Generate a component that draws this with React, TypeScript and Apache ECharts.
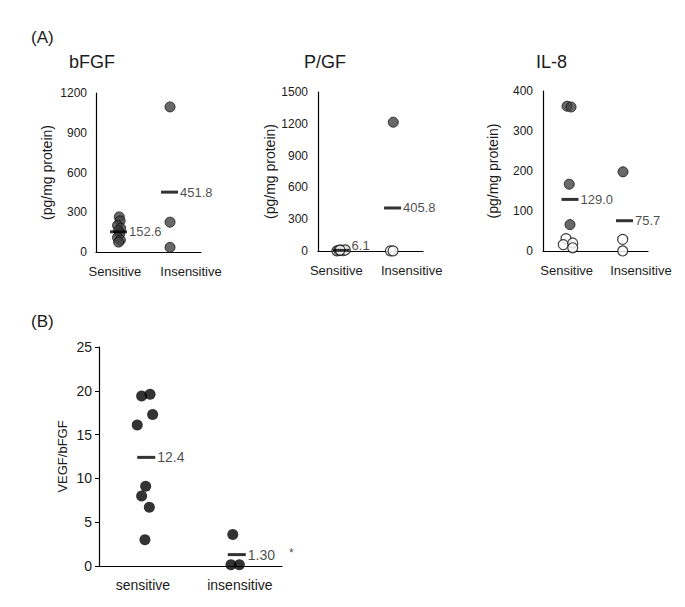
import React, { useEffect, useRef } from "react";
import * as echarts from "echarts";

const FONT = "'Liberation Sans', Arial, Helvetica, sans-serif";
const TXT = "#1a1a1a";

// ---- data ----
const categoriesA = ["Sensitive", "Insensitive"];
const categoriesB = ["sensitive", "insensitive"];

const bfgfSensitive = [265, 235, 200, 180, 160, 140, 110, 90, 75];
const bfgfInsensitive = [1095, 225, 35];
const bfgfMeans = [152.6, 451.8];

const plgfSensitiveOpen = [2, 5, 8, 3, 10, 8.6];
const plgfInsensitiveFilled = [1215];
const plgfInsensitiveOpen = [1.5, 0.9];
const plgfMeans = [6.1, 405.8];

const il8SensitiveFilled = [362, 360, 167, 66];
const il8SensitiveOpen = [31, 16, 20, 8];
const il8InsensitiveFilled = [198];
const il8InsensitiveOpen = [29, 0.1];
const il8Means = [129.0, 75.7];

const ratioSensitive = [19.4, 19.6, 17.3, 16.1, 9.1, 8.0, 6.7, 3.0];
const ratioInsensitive = [3.6, 0.15, 0.15];
const ratioMeans = [12.4, 1.3];
const ratioMeanDecimals = [1, 2];

// ---- layout (horizontal placement within each panel, 0..1 of axis width) ----
const jitterBfgfS = [0.222, 0.23, 0.205, 0.235, 0.215, 0.228, 0.205, 0.232, 0.215];
const jitterBfgfI = [0.705, 0.705, 0.705];
const jitterPlgfS = [0.18, 0.2, 0.22, 0.24, 0.26, 0.21];
const jitterPlgfIF = [0.717];
const jitterPlgfIO = [0.69, 0.715];
const jitterIl8SF = [0.229, 0.267, 0.25, 0.257];
const jitterIl8SO = [0.219, 0.193, 0.283, 0.283];
const jitterIl8IF = [0.762];
const jitterIl8IO = [0.759, 0.759];
const jitterRatioS = [0.233, 0.279, 0.293, 0.209, 0.255, 0.233, 0.275, 0.251];
const jitterRatioI = [0.731, 0.721, 0.767];

const zip = (xs: number[], ys: number[]) => ys.map((v, i) => [xs[i], v]);

const filledA = { color: "#444", borderColor: "#111", borderWidth: 1 };
const openA = { color: "#fff", borderColor: "#111", borderWidth: 1.2 };

function xAxisFor(grid: number, cats: string[], pos: number[], fontSize: number, margin: number) {
  return {
    gridIndex: grid,
    type: "value",
    min: 0,
    max: 1,
    axisLine: { show: true, onZero: false, lineStyle: { color: "#000", width: 1.2 } },
    axisTick: { show: false },
    splitLine: { show: false },
    axisLabel: {
      customValues: pos,
      margin,
      fontSize,
      color: TXT,
      fontFamily: FONT,
      formatter: (v: number) => {
        const i = pos.findIndex((p) => Math.abs(p - v) < 1e-6);
        return i >= 0 ? cats[i] : "";
      },
    },
  };
}

function yAxisFor(grid: number, max: number, interval: number, name: string, nameGap: number, tick: boolean, fs: number, nfs: number, margin: number) {
  return {
    gridIndex: grid,
    type: "value",
    min: 0,
    max,
    interval,
    axisLine: { show: true, lineStyle: { color: "#000", width: 1.2 } },
    axisTick: { show: tick, length: 4, lineStyle: { color: "#000" } },
    splitLine: { show: false },
    axisLabel: { fontSize: fs, color: TXT, fontFamily: FONT, margin, formatter: (v: number) => String(v) },
    name,
    nameLocation: "middle",
    nameRotate: 90,
    nameGap,
    nameTextStyle: { fontSize: nfs, color: TXT, fontFamily: FONT },
  };
}

function dots(grid: number, data: number[][], style: any, size: number) {
  return {
    type: "scatter",
    xAxisIndex: grid,
    yAxisIndex: grid,
    data,
    symbol: "circle",
    symbolSize: size,
    itemStyle: style,
    z: 2,
  };
}

function means(grid: number, xs: number[], vals: number[], fmt: (i: number) => string, width: number, fs: number, extra?: any) {
  return {
    type: "scatter",
    xAxisIndex: grid,
    yAxisIndex: grid,
    data: vals.map((v, i) => ({
      value: [xs[i], v],
      label: extra && extra[i] ? extra[i] : undefined,
    })),
    symbol: "rect",
    symbolSize: [width, 3],
    itemStyle: { color: "#000" },
    z: 5,
    label: {
      show: true,
      position: "right",
      distance: 2,
      fontSize: fs,
      color: TXT,
      fontFamily: FONT,
      formatter: (p: any) => fmt(p.dataIndex),
    },
  };
}

export default function App() {
  const ref = useRef<HTMLDivElement>(null);
  useEffect(() => {
    if (!ref.current) return;
    const chart = echarts.init(ref.current, undefined, { renderer: "svg" });
    const titleStyle = (fs: number) => ({ fontSize: fs, fontWeight: "normal", color: TXT, fontFamily: FONT });
    const option: any = {
      animation: false,
      backgroundColor: "#fff",
      title: [
        { text: "(A)", left: 26, top: 24, textStyle: titleStyle(17) },
        { text: "bFGF", left: 64, top: 48, textStyle: titleStyle(18) },
        { text: "P/GF", left: 299, top: 48, textStyle: titleStyle(18) },
        { text: "IL-8", left: 531, top: 48, textStyle: titleStyle(18) },
        { text: "(B)", left: 26, top: 308, textStyle: titleStyle(17) },
      ],
      grid: [
        { left: 96, top: 93, width: 105, height: 159 },
        { left: 318, top: 92, width: 105, height: 159 },
        { left: 543, top: 91, width: 105, height: 160 },
        { left: 99, top: 347, width: 183, height: 219 },
      ],
      xAxis: [
        xAxisFor(0, categoriesA, [0.18, 0.905], 13, 13),
        xAxisFor(1, categoriesA, [0.174, 0.892], 13, 13),
        xAxisFor(2, categoriesA, [0.226, 0.933], 13, 13),
        xAxisFor(3, categoriesB, [0.24, 0.77], 14, 12),
      ],
      yAxis: [
        yAxisFor(0, 1200, 300, "(pg/mg protein)", 42, false, 12, 14, 9),
        yAxisFor(1, 1500, 300, "(pg/mg protein)", 38, false, 12, 14, 10),
        yAxisFor(2, 400, 100, "(pg/mg protein)", 43, false, 12, 14, 10),
        yAxisFor(3, 25, 5, "VEGF/bFGF", 30, true, 14, 13, 7),
      ],
      series: [
        dots(0, zip(jitterBfgfS, bfgfSensitive), filledA, 10),
        dots(0, zip(jitterBfgfI, bfgfInsensitive), filledA, 10),
        means(0, [0.214, 0.7], bfgfMeans, (i) => bfgfMeans[i].toFixed(1), 17, 13),

        dots(1, zip(jitterPlgfS, plgfSensitiveOpen), openA, 10),
        dots(1, zip(jitterPlgfIF, plgfInsensitiveFilled), filledA, 10),
        dots(1, zip(jitterPlgfIO, plgfInsensitiveOpen), openA, 10),
        means(1, [0.22, 0.71], plgfMeans, (i) => plgfMeans[i].toFixed(1), 17, 13, [{ offset: [0, -5] }, null]),

        dots(2, zip(jitterIl8SF, il8SensitiveFilled), filledA, 10),
        dots(2, zip(jitterIl8SO, il8SensitiveOpen), openA, 10),
        dots(2, zip(jitterIl8IF, il8InsensitiveFilled), filledA, 10),
        dots(2, zip(jitterIl8IO, il8InsensitiveOpen), openA, 10),
        means(2, [0.257, 0.776], il8Means, (i) => il8Means[i].toFixed(1), 17, 13),

        dots(3, zip(jitterRatioS, ratioSensitive), { color: "#000" }, 11),
        dots(3, zip(jitterRatioI, ratioInsensitive), { color: "#000" }, 11),
        means(3, [0.258, 0.753], ratioMeans, (i) => ratioMeans[i].toFixed(ratioMeanDecimals[i]), 18, 14, [
          null,
          {
            formatter: "{a|" + ratioMeans[1].toFixed(ratioMeanDecimals[1]) + "}{s|*}",
            rich: {
              a: { fontSize: 14, color: TXT, fontFamily: FONT },
              s: { fontSize: 12, color: TXT, fontFamily: FONT, padding: [0, 0, 4, 14] },
            },
          },
        ]),
      ],
    };
    chart.setOption(option);
    return () => chart.dispose();
  }, []);
  return (
    <div
      ref={ref}
      style={{ position: "fixed", left: 0, top: 0, width: 685, height: 607, background: "#fff" }}
    />
  );
}
